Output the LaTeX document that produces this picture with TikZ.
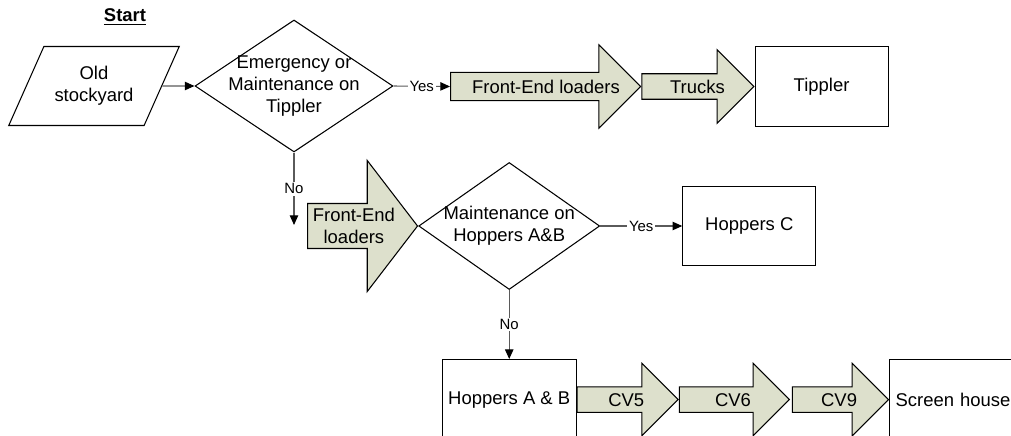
\documentclass[tikz,border=0pt]{standalone}
\usepackage{fontspec}
\setmainfont{Liberation Sans}
\usetikzlibrary{shapes.geometric,shapes.arrows,arrows.meta,positioning}
\definecolor{arrowfill}{RGB}{221,224,204}
\definecolor{linegray}{RGB}{90,90,90}

\begin{document}
\begin{tikzpicture}[font=\fontsize{10.5}{12.5}\selectfont,
	box/.style={rectangle,draw,line width=0.6pt,minimum width=2.66cm,minimum height=1.6cm,align=center},
	decision/.style={diamond,draw,line width=0.6pt,inner sep=0pt},
	para/.style={trapezium,trapezium left angle=58,trapezium right angle=122,
		trapezium stretches=true,draw,line width=0.6pt,
		minimum width=3.44cm,minimum height=1.58cm,align=center},
	flow/.style={single arrow,draw,line width=0.6pt,fill=arrowfill,
		single arrow tip angle=90,inner xsep=0pt,inner ysep=3.2pt},
	flowline/.style={flow,text height=7.5pt,text depth=0pt},
	conn/.style={draw=linegray,line width=0.6pt,
		-{Triangle[length=5.5pt,width=4.8pt,color=black]}},
	lbl/.style={font=\fontsize{8.5}{10}\selectfont,fill=white,inner sep=1pt}]

\useasboundingbox (0,0) rectangle (20.22,-8.72);
\clip (0,0) rectangle (20.22,-8.72);

% start and first decision
\node (start) at (2.5,-0.34) {\underline{\textbf{Start}}};
\node[para] (old) at (1.88,-1.72) {Old\\stockyard};
\node[decision,minimum width=3.96cm,minimum height=2.64cm] (d1) at (5.88,-1.72) {};
\node[align=center] (d1txt) at (d1) {Emergency or\\Maintenance on\\Tippler};

% yes branch: tippler
\node[flowline,anchor=tail,minimum height=3.8cm,inner ysep=4pt,
	single arrow head extend=0.55cm] (fel1) at (9,-1.73) {\hspace*{0.3cm}Front-End loaders};
\node[flowline,anchor=tail,minimum height=2.24cm,
	single arrow head extend=0.48cm] (trucks) at (fel1.tip) {\hspace*{0.24cm}Trucks};
\node[box,anchor=west] (tippler) at (trucks.tip) {Tippler};

% no branch: hoppers
\coordinate (noend) at (5.88,-4.5);
\node[flow,anchor=tail,minimum height=2.2cm,inner ysep=2.4pt,align=center,
	single arrow tip angle=105,single arrow head extend=0.86cm] (fel2) at (6.14,-4.52) {Front-End\\loaders};
\node[decision,minimum width=3.62cm,minimum height=2.54cm,anchor=west] (d2) at (fel2.tip) {};
\node[align=center] (d2txt) at (d2) {Maintenance on\\Hoppers A\&B};
\node[box,right=1.64cm of d2,minimum height=1.58cm] (hopc) {Hoppers C};
\node[box,below=1.38cm of d2,minimum width=2.64cm] (hopab) {Hoppers A \& B};

% conveyors to screen house
\node[flowline,anchor=tail,minimum height=2.02cm,
	single arrow head extend=0.47cm] (cv5) at (hopab.east) {\hspace*{0.2cm}CV5};
\node[flowline,anchor=tail,minimum height=2.2cm,
	single arrow head extend=0.47cm] (cv6) at (cv5.tip) {\hspace*{0.2cm}CV6};
\node[flowline,anchor=tail,minimum height=1.92cm,
	single arrow head extend=0.47cm] (cv9) at ([xshift=1pt]cv6.tip) {\hspace*{0.2cm}CV9};
\node[box,anchor=west,text width=2.48cm,align=left] (screen) at (cv9.tip) {Screen house};

% connectors
\draw[conn] (old.east) -- (d1.west);
\draw[conn] (d1.east) -- node[lbl] (yes1) {Yes} (fel1.tail);
\draw[conn] (d1.south) -- node[lbl] (no1) {No} (noend);
\draw[conn] (d2.east) -- node[lbl] (yes2) {Yes} (hopc.west);
\draw[conn] (d2.south) -- node[lbl] (no2) {No} (hopab.north);
\end{tikzpicture}
\end{document}
